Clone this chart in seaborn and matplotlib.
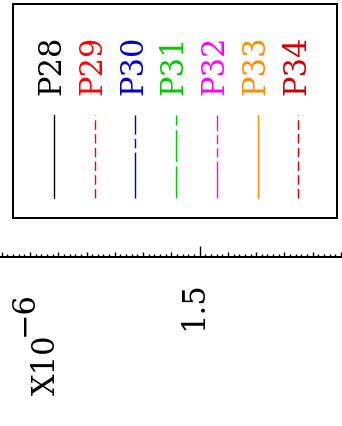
import matplotlib
matplotlib.use("Agg")
import matplotlib.pyplot as plt
import matplotlib.transforms as mtransforms
from matplotlib.ticker import FixedLocator, MultipleLocator
import seaborn as sns

# Legend entries
names = ["P28", "P29", "P30", "P31", "P32", "P33", "P34"]
colors = ["#000000", "#FF0000", "#0000C8", "#00C800", "#FF00FF", "#FF8C00", "#C80000"]
dashes = [None, (6.8, 3.1), (33, 3.1, 6.8, 3.1), (23, 3.2),
          (26.6, 3, 6.5, 3, 6.5, 3), None, (6.8, 3.1)]

# Axis (units of 1e-6)
x_range = [0.794, 2.0035]
x_major = [1.5]
x_major_labels = ["1.5"]
x_exponent = "−6"

sns.set_theme(style="white")
plt.rcParams["font.family"] = ["DejaVu Serif", "DejaVu Sans"]
plt.rcParams["lines.scale_dashes"] = False

W, H = 342, 427
fig = plt.figure(figsize=(W / 100, H / 100), dpi=100)

# Main axis: only the bottom spine is inside the crop
ax = fig.add_axes([0, 1 - 258.3 / H, 1, 0.8])
ax.set_xlim(x_range)
ax.set_ylim(0, 1)
for s in ["top", "left", "right"]:
    ax.spines[s].set_visible(False)
ax.spines["bottom"].set_color("black")
ax.spines["bottom"].set_linewidth(1.44)
ax.set_yticks([])
ax.xaxis.set_major_locator(FixedLocator(x_major))
ax.set_xticklabels(x_major_labels)
ax.xaxis.set_minor_locator(MultipleLocator(0.02))
ax.tick_params(axis="x", which="major", direction="in", length=7.9, width=1,
               color="black", pad=16.3, labelsize=22, labelcolor="black",
               bottom=True)
ax.tick_params(axis="x", which="minor", direction="in", length=2.2, width=1,
               color="black", bottom=True)

# every fifth minor tick is a bit longer
minor_locs = ax.xaxis.get_minorticklocs()
for tick, loc in zip(ax.xaxis.get_minor_ticks(len(minor_locs)), minor_locs):
    if round(loc / 0.02) % 5 == 0:
        tick.tick1line.set_markersize(3.6)

shift = mtransforms.ScaledTranslation(2.4 / 100, 0, fig.dpi_scale_trans)
for lab in ax.get_xticklabels():
    lab.set_rotation(90)
    lab.set_rotation_mode("anchor")
    lab.set_ha("right")
    lab.set_va("baseline")
    lab.set_transform(lab.get_transform() + shift)

# Exponent label
fig.text(55 / W, 1 - 395 / H, "X10", rotation=90, rotation_mode="anchor",
         ha="left", va="baseline", fontsize=22, color="black")
fig.text(33 / W, 1 - 336 / H, x_exponent, rotation=90, rotation_mode="anchor",
         ha="left", va="baseline", fontsize=22, color="black")

# Legend box
lax = fig.add_axes([13 / W, 1 - 219 / H, 324 / W, 214 / H])
lax.set_xlim(-1.0, 6.95)
lax.set_ylim(0, 1)
lax.set_xticks([])
lax.set_yticks([])
for s in lax.spines.values():
    s.set_color("black")
    s.set_linewidth(1.44)
    s.set_visible(True)

for i, (name, c, d) in enumerate(zip(names, colors, dashes)):
    ls = "-" if d is None else (0, d)
    lax.plot([i, i], [0.093, 0.481], color=c, lw=1, linestyle=ls)
    lax.text(i + 0.165, 0.579, name, rotation=90, rotation_mode="anchor",
             ha="left", va="baseline", fontsize=22, color=c)

fig.savefig("out.png", dpi=100)
